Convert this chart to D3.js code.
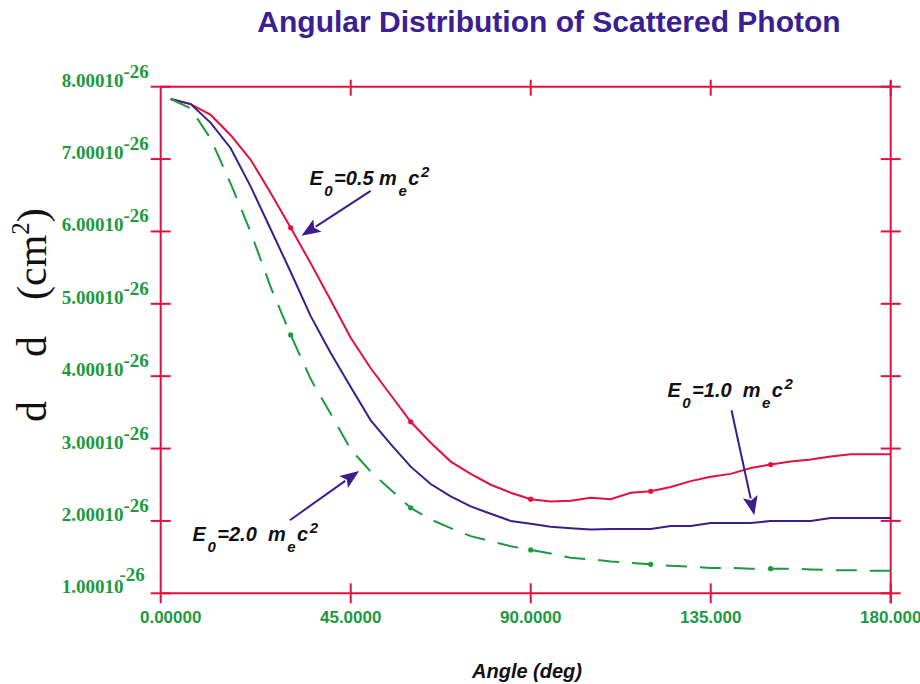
<!DOCTYPE html>
<html>
<head>
<meta charset="utf-8">
<script src="https://cdn.jsdelivr.net/npm/d3@7"></script>
<style>
  body { margin: 0; background: #fff; }
  svg { display: block; }
</style>
</head>
<body>
<svg id="chart" width="920" height="684"></svg>
<script>
// scattering angle (deg) and dsigma/dOmega in units of 1e-26 cm^2
var angles = [0, 5, 10, 15, 20, 25, 30, 35, 40, 45, 50, 55, 60, 65, 70, 75, 80, 85, 90,
              95, 100, 105, 110, 115, 120, 125, 130, 135, 140, 145, 150, 155, 160, 165, 170, 175, 180];
var e05 = [7.83, 7.76, 7.61, 7.33, 6.99, 6.53, 6.05, 5.56, 5.05, 4.53, 4.11, 3.74, 3.37, 3.08, 2.82, 2.65, 2.50, 2.39, 2.30,
           2.27, 2.28, 2.32, 2.30, 2.39, 2.41, 2.47, 2.55, 2.61, 2.65, 2.73, 2.78, 2.82, 2.85, 2.89, 2.92, 2.92, 2.92];
var e10 = [7.83, 7.76, 7.50, 7.15, 6.62, 6.03, 5.44, 4.83, 4.32, 3.85, 3.39, 3.06, 2.75, 2.51, 2.34, 2.20, 2.10, 2.00, 1.96,
           1.92, 1.90, 1.88, 1.89, 1.89, 1.89, 1.93, 1.93, 1.97, 1.97, 1.97, 2.00, 2.00, 2.00, 2.04, 2.04, 2.04, 2.04];
var e20 = [7.83, 7.70, 7.28, 6.66, 5.99, 5.23, 4.57, 3.96, 3.48, 2.99, 2.68, 2.43, 2.18, 2.02, 1.90, 1.79, 1.72, 1.65, 1.60,
           1.55, 1.49, 1.47, 1.44, 1.42, 1.40, 1.38, 1.37, 1.35, 1.35, 1.34, 1.34, 1.34, 1.33, 1.32, 1.32, 1.31, 1.31];
var markerAngles = [30, 60, 90, 120, 150];

var xTicks = [0, 45, 90, 135, 180];
var xTickLabels = ['0.00000', '45.0000', '90.0000', '135.000', '180.000'];
var yTicks = [1, 2, 3, 4, 5, 6, 7, 8];
var yTickLabels = ['1.00010', '2.00010', '3.00010', '4.00010', '5.00010', '6.00010', '7.00010', '8.00010'];
var yExponent = '-26';

// callouts: arrow from [angle, value] to [angle, value], text anchored at [angle, value]
var callouts = [
  { text: [34.3, 6.64], from: [50, 6.56], to: [32.7, 5.94],
    parts: [['E', 0], ['0', 1], ['=0.5 m', 0], ['e', 1], ['c', 0], ['2', -1]] },
  { text: [123.8, 3.71], from: [140.2, 3.53], to: [145.9, 2.08],
    parts: [['E', 0], ['0', 1], ['=1.0  m', 0], ['e', 1], ['c', 0], ['2', -1]] },
  { text: [5.1, 1.72], from: [29.8, 2.01], to: [47.1, 2.69],
    parts: [['E', 0], ['0', 1], ['=2.0  m', 0], ['e', 1], ['c', 0], ['2', -1]] }
];

var colors = {
  axis: '#e3103f',
  red: '#e3103f',
  blue: '#3a1f8c',
  green: '#1c9a40',
  title: '#3a2090'
};

var svg = d3.select('#chart');

var xScale = d3.scaleLinear().domain([0, 180]).range([170.7, 890.7]);
var yScale = d3.scaleLinear().domain([1, 8]).range([593.3, 86.7]);
var frameLeft = xScale(-2.5);
var frameRight = xScale(180);

// title
svg.append('text')
  .attr('x', 549).attr('y', 32)
  .attr('text-anchor', 'middle')
  .style('font-family', 'Liberation Sans, Arial, sans-serif')
  .style('font-weight', 'bold')
  .style('font-size', '30px')
  .style('fill', colors.title)
  .text('Angular Distribution of Scattered Photon');

// frame and axes
var frame = svg.append('g').attr('class', 'frame')
  .style('stroke', colors.axis).style('stroke-width', 2).style('fill', 'none');

frame.append('line')
  .attr('x1', frameLeft).attr('x2', frameLeft)
  .attr('y1', yScale(8)).attr('y2', yScale(1) + 10);
frame.append('line')
  .attr('x1', frameRight).attr('x2', frameRight)
  .attr('y1', yScale(8) - 6).attr('y2', yScale(1) + 10);
frame.append('line')
  .attr('x1', frameLeft).attr('x2', frameRight)
  .attr('y1', yScale(8)).attr('y2', yScale(8));
frame.append('line')
  .attr('x1', frameLeft).attr('x2', frameRight)
  .attr('y1', yScale(1)).attr('y2', yScale(1));

// y ticks crossing the left and right sides
frame.selectAll('line.yl').data(yTicks).enter().append('line')
  .attr('class', 'yl')
  .attr('x1', frameLeft - 10).attr('x2', frameLeft + 10)
  .attr('y1', function(d){ return yScale(d); })
  .attr('y2', function(d){ return yScale(d); });
frame.selectAll('line.yr').data(yTicks).enter().append('line')
  .attr('class', 'yr')
  .attr('x1', frameRight - 10).attr('x2', frameRight + 10)
  .attr('y1', function(d){ return yScale(d); })
  .attr('y2', function(d){ return yScale(d); });

// x ticks on bottom and top (the 0 tick is the frame line itself)
var xTickLines = xTicks.filter(function(d){ return d > 0; });
frame.selectAll('line.xb').data(xTickLines).enter().append('line')
  .attr('class', 'xb')
  .attr('x1', function(d){ return xScale(d); })
  .attr('x2', function(d){ return xScale(d); })
  .attr('y1', yScale(1) - 10).attr('y2', yScale(1) + 10);
frame.selectAll('line.xt').data(xTickLines).enter().append('line')
  .attr('class', 'xt')
  .attr('x1', function(d){ return xScale(d); })
  .attr('x2', function(d){ return xScale(d); })
  .attr('y1', yScale(8) - 7).attr('y2', yScale(8) + 9);

// x tick labels
svg.selectAll('text.xlab').data(xTicks).enter().append('text')
  .attr('class', 'xlab')
  .attr('x', function(d){ return xScale(d); })
  .attr('y', yScale(1) + 30)
  .attr('text-anchor', 'middle')
  .style('font-family', 'Liberation Sans, Arial, sans-serif')
  .style('font-weight', 'bold')
  .style('font-size', '17px')
  .style('fill', colors.green)
  .text(function(d, i){ return xTickLabels[i]; });

// y tick labels: mantissa + raised exponent
var ylab = svg.selectAll('text.ylab').data(yTicks).enter().append('text')
  .attr('class', 'ylab')
  .attr('x', frameLeft - 99)
  .attr('y', function(d){ return yScale(d); })
  .style('font-family', 'Liberation Serif, Times New Roman, serif')
  .style('font-weight', 'bold')
  .style('font-size', '19px')
  .style('fill', colors.green);
ylab.append('tspan').text(function(d, i){ return yTickLabels[i]; });
ylab.append('tspan')
  .attr('dx', function(d){ return d === 1 ? -4 : 0; })
  .attr('dy', function(d){ return d === 1 ? -12 : -9; })
  .text(yExponent);

// axis titles
svg.append('text')
  .attr('x', 527).attr('y', 678)
  .attr('text-anchor', 'middle')
  .style('font-family', 'Liberation Sans, Arial, sans-serif')
  .style('font-weight', 'bold')
  .style('font-style', 'italic')
  .style('font-size', '20px')
  .style('fill', '#111')
  .text('Angle (deg)');

var ytitle = svg.append('text')
  .attr('transform', 'translate(46,422) rotate(-90)')
  .style('font-family', 'Liberation Serif, Times New Roman, serif')
  .style('font-size', '42px')
  .style('fill', '#111');
ytitle.append('tspan').attr('x', 0).text('d');
ytitle.append('tspan').attr('x', 65).text('d');
ytitle.append('tspan').attr('x', 122).text('(cm');
ytitle.append('tspan').attr('dy', -17).style('font-size', '25px').text('2');
ytitle.append('tspan').attr('dy', 17).text(')');

// curves
var series = [
  { name: 'E0=0.5', values: e05, color: colors.red, dash: null, markers: true },
  { name: 'E0=1.0', values: e10, color: colors.blue, dash: null, markers: false },
  { name: 'E0=2.0', values: e20, color: colors.green, dash: '21,13', markers: true }
];

var line = d3.line()
  .x(function(d){ return xScale(d[0]); })
  .y(function(d){ return yScale(d[1]); });

series.forEach(function(s){
  var pts = angles.map(function(a, i){ return [a, s.values[i]]; });
  svg.append('path')
    .datum(pts)
    .attr('d', line)
    .style('fill', 'none')
    .style('stroke', s.color)
    .style('stroke-width', 2)
    .style('stroke-dasharray', s.dash);
  if(s.markers){
    svg.selectAll(null)
      .data(pts.filter(function(p){ return markerAngles.indexOf(p[0]) >= 0; }))
      .enter().append('circle')
      .attr('cx', function(p){ return xScale(p[0]); })
      .attr('cy', function(p){ return yScale(p[1]); })
      .attr('r', 2.6)
      .style('fill', s.color);
  }
});

// callouts
callouts.forEach(function(c){
  var x1 = xScale(c.from[0]), y1 = yScale(c.from[1]);
  var x2 = xScale(c.to[0]), y2 = yScale(c.to[1]);
  var len = Math.sqrt((x2 - x1) * (x2 - x1) + (y2 - y1) * (y2 - y1));
  var ux = (x2 - x1) / len, uy = (y2 - y1) / len;
  var headLen = 19, headW = 7.5;
  var bx = x2 - ux * headLen, by = y2 - uy * headLen;

  svg.append('line')
    .attr('x1', x1).attr('y1', y1)
    .attr('x2', bx + ux * 2).attr('y2', by + uy * 2)
    .style('stroke', colors.blue).style('stroke-width', 2);
  svg.append('path')
    .attr('d', 'M' + x2 + ',' + y2 +
               'L' + (bx - uy * headW) + ',' + (by + ux * headW) +
               'L' + (bx + ux * 4) + ',' + (by + uy * 4) +
               'L' + (bx + uy * headW) + ',' + (by - ux * headW) + 'Z')
    .style('fill', colors.blue);

  var t = svg.append('text')
    .attr('x', xScale(c.text[0])).attr('y', yScale(c.text[1]))
    .style('white-space', 'pre')
    .style('font-family', 'Liberation Sans, Arial, sans-serif')
    .style('font-weight', 'bold')
    .style('font-style', 'italic')
    .style('font-size', '20px')
    .style('fill', '#111');
  var level = 0;
  c.parts.forEach(function(p){
    var target = p[1] === 1 ? 11 : (p[1] === -1 ? -8 : 0);
    t.append('tspan')
      .attr('dy', target - level)
      .attr('dx', 1.5)
      .style('font-size', p[1] !== 0 ? '15px' : null)
      .text(p[0]);
    level = target;
  });
});
</script>
</body>
</html>
